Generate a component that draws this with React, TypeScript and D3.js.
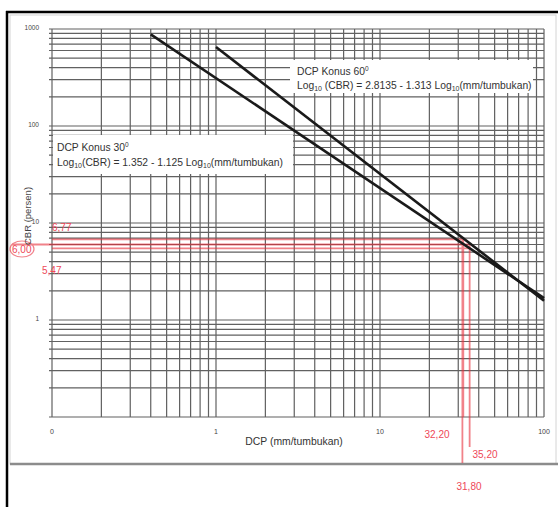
import React from 'react';
import * as d3 from 'd3';

// ---- data ----
const xTickValues = [0.1, 1, 10, 100];
const xTickLabels = ['0', '1', '10', '100'];
const yTickValues = [1, 10, 100, 1000];
const yTickLabels = ['1', '10', '100', '1000'];

const cone30DCP = [0.4, 100];
const cone30CBR = [880, 1.68];
const cone60DCP = [1, 100];
const cone60CBR = [651, 1.58];

const refCBR = [6.77, 6.0, 5.47];
const refCBRLabels = ['6,77', '6,00', '5,47'];
const refCBREndDCP = [32.2, 35.2, 35.2];
const refDCP = [32.2, 35.2, 31.8];
const refDCPLabels = ['32,20', '35,20', '31,80'];
const refDCPStartCBR = [6.77, 6.0, 6.77];

const W = 558;
const H = 507;
const FONT = '"Liberation Sans", Arial, sans-serif';

export default function App() {
  const x = d3.scaleLog().domain([0.1, 100]).range([52, 544]);
  const y = d3.scaleLog().domain([0.1, 1000]).range([417, 29]);
  const xGrid = x.ticks();
  const yGrid = y.ticks();
  const line = d3
    .line<[number, number]>()
    .x((d) => x(d[0]))
    .y((d) => y(d[1]));
  const l30 = line(cone30DCP.map((d, i) => [d, cone30CBR[i]] as [number, number]));
  const l60 = line(cone60DCP.map((d, i) => [d, cone60CBR[i]] as [number, number]));
  const red = '#e8303c';
  const redText = '#ee4858';
  const vBottoms = [417, 447, 463];
  const hStarts = [52, 12, 52];

  return (
    <svg width={W} height={H} style={{ position: 'absolute', left: 0, top: 0, background: '#fff' }} fontFamily={FONT}>
      <rect x={0} y={0} width={W} height={H} fill="#fff" />
      {/* inner figure frame */}
      <rect x={10} y={15} width={546} height={449} fill="#fff" stroke="#d4d4d4" strokeWidth={1} />
      <line x1={10} x2={W} y1={464} y2={464} stroke="#8c8c8c" strokeWidth={2.5} />

      {/* grid */}
      <g stroke="#505050" strokeWidth={1.2} opacity={0.9}>
        {xGrid.map((v, i) => (
          <line key={'gx' + i} x1={x(v)} x2={x(v)} y1={y(1000)} y2={y(0.1)} />
        ))}
        {yGrid.map((v, i) => (
          <line key={'gy' + i} x1={x(0.1) - 3} x2={x(100)} y1={y(v)} y2={y(v)} />
        ))}
      </g>

      {/* annotation boxes */}
      <rect x={53} y={135} width={240} height={39} fill="#fff" />
      <rect x={290} y={60} width={243} height={33} fill="#fff" />
      <g fill="#333" fontSize={10.3}>
        <text x={57} y={151}>
          DCP  Konus 30<tspan dy={-4} fontSize={6.5}>0</tspan>
        </text>
        <text x={57} y={166}>
          Log<tspan dy={2} fontSize={7}>10</tspan>
          <tspan dy={-2}>(CBR) = 1.352 - 1.125 Log</tspan>
          <tspan dy={2} fontSize={7}>10</tspan>
          <tspan dy={-2}>(mm/tumbukan)</tspan>
        </text>
        <text x={297} y={75}>
          DCP  Konus 60<tspan dy={-4} fontSize={6.5}>0</tspan>
        </text>
        <text x={297} y={89}>
          Log<tspan dy={2} fontSize={7}>10</tspan>
          <tspan dy={-2}> (CBR) = 2.8135 - 1.313 Log</tspan>
          <tspan dy={2} fontSize={7}>10</tspan>
          <tspan dy={-2}>(mm/tumbukan)</tspan>
        </text>
      </g>

      {/* red reference lines */}
      <g stroke={red} strokeWidth={1.8} opacity={0.6} fill="none">
        {refCBR.map((v, i) => (
          <line key={'rh' + i} x1={hStarts[i]} x2={x(refCBREndDCP[i])} y1={y(v)} y2={y(v)} />
        ))}
        {refDCP.map((v, i) => (
          <line key={'rv' + i} x1={x(v)} x2={x(v)} y1={y(refDCPStartCBR[i])} y2={vBottoms[i]} />
        ))}
        <ellipse cx={22} cy={249} rx={12} ry={8} strokeWidth={1.2} />
      </g>

      {/* cone lines */}
      <path d={l30 || ''} stroke="#1a1a1a" strokeWidth={2.6} fill="none" />
      <path d={l60 || ''} stroke="#1a1a1a" strokeWidth={2.6} fill="none" />

      {/* red labels */}
      <g fill={redText} fontSize={10}>
        <text x={52} y={231}>{refCBRLabels[0]}</text>
        <text x={12} y={253}>{refCBRLabels[1]}</text>
        <text x={42} y={274}>{refCBRLabels[2]}</text>
        <text x={437} y={438} textAnchor="middle">{refDCPLabels[0]}</text>
        <text x={485} y={458} textAnchor="middle">{refDCPLabels[1]}</text>
        <text x={469} y={490} textAnchor="middle">{refDCPLabels[2]}</text>
      </g>

      {/* tick labels */}
      <g fill="#444" fontSize={6.5}>
        {yTickValues.map((v, i) => (
          <text key={'yt' + i} x={39} y={y(v) + 1} textAnchor="end">{yTickLabels[i]}</text>
        ))}
      </g>
      <g fill="#444" fontSize={7}>
        {xTickValues.map((v, i) => (
          <text key={'xt' + i} x={x(v)} y={434} textAnchor="middle">{xTickLabels[i]}</text>
        ))}
      </g>
      <text x={294} y={445} textAnchor="middle" fill="#333" fontSize={10.4}>DCP (mm/tumbukan)</text>
      <text transform="translate(31,216) rotate(-90)" textAnchor="middle" fill="#444" fontSize={9.5}>CBR (persen)</text>

      {/* outer black frame */}
      <line x1={6} x2={W} y1={12} y2={12} stroke="#000" strokeWidth={2.5} />
      <line x1={7} x2={7} y1={11} y2={H} stroke="#000" strokeWidth={2.5} />
    </svg>
  );
}
